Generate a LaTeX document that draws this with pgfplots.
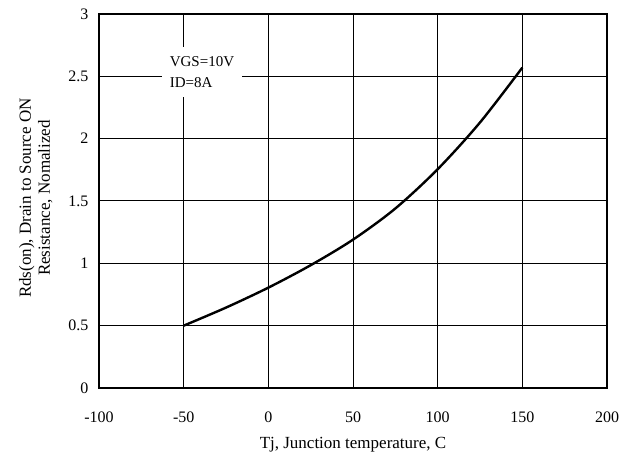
\documentclass[border=0pt]{standalone}
\usepackage{fontspec}
\setmainfont{Liberation Serif}
\usepackage{pgfplots}
\pgfplotsset{compat=1.18}
\usetikzlibrary{calc}

\begin{document}
\begin{tikzpicture}
\begin{axis}[
    name=ax,
    scale only axis,
    width=508pt, height=374pt,
    xmin=-100, xmax=200,
    ymin=0, ymax=3,
    xtick={-100,-50,...,200},
    ytick={0,0.5,...,3},
    grid=major,
    grid style={black, line width=1pt},
    axis line style={black, line width=1.8pt},
    tick style={draw=none},
    /pgf/number format/assume math mode=true,
    ticklabel style={font=\fontsize{16}{18}\selectfont},
    xticklabel style={yshift=-20pt},
    yticklabel style={xshift=-7pt},
    xlabel={Tj, Junction temperature, C},
    xlabel style={font=\fontsize{17}{20}\selectfont, yshift=-8pt},
    ylabel={Rds(on), Drain to Source ON\\Resistance, Nomalized},
    ylabel style={font=\fontsize{17}{19}\selectfont, align=center, yshift=9pt, xshift=3pt},
]
% Rds(on) normalized vs Tj
\addplot[black, line width=2.4pt, smooth] coordinates {
    (-50,0.50) (-25,0.645) (0,0.805) (25,0.985) (50,1.19)
    (75,1.44) (100,1.755) (125,2.13) (150,2.57)
};
\node[fill=white, minimum width=80pt, minimum height=50pt, align=left,
      font=\fontsize{15}{21}\selectfont, inner sep=0pt]
      at (axis cs:-39.2,2.535) {VGS=10V\\ID=8A};
\end{axis}
\pgfresetboundingbox
\path[use as bounding box] ($(ax.south west)+(-99pt,-74pt)$) rectangle ($(ax.north east)+(26pt,14pt)$);
\end{tikzpicture}
\end{document}
